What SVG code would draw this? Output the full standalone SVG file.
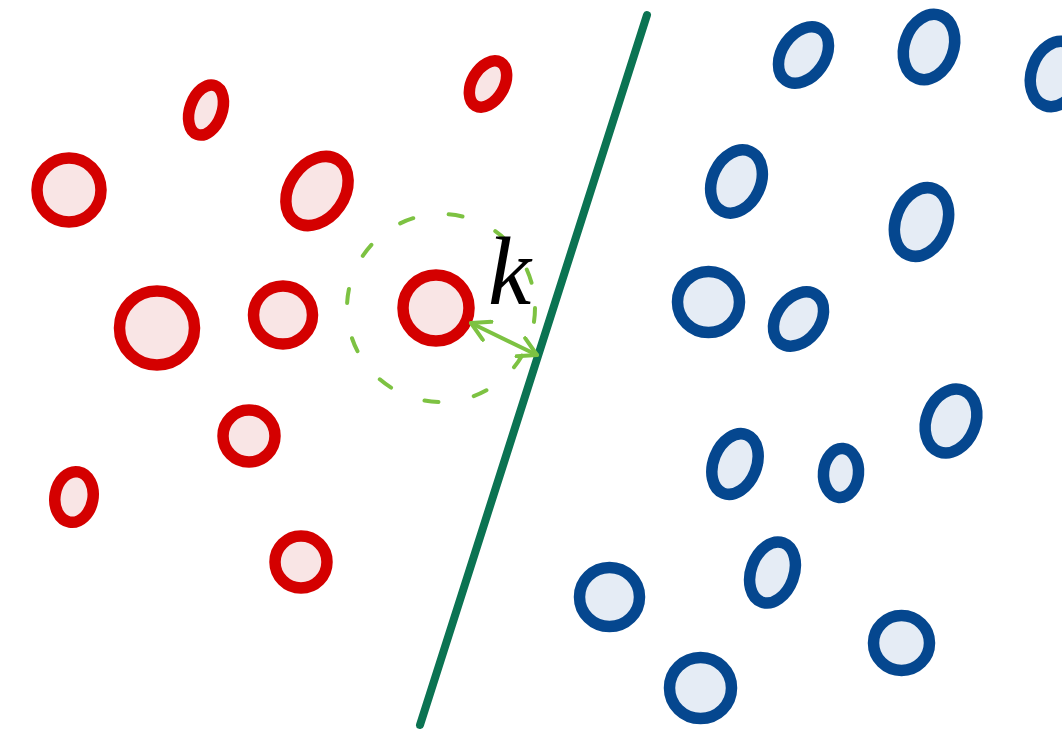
<svg xmlns="http://www.w3.org/2000/svg" width="1062" height="732" viewBox="0 0 1062 732">
<style>
.r{fill:#f9e5e5;stroke:#d40000;stroke-width:11.5}
.b{fill:#e5ecf5;stroke:#05478f;stroke-width:11.5}
.g{fill:none;stroke:#7dc242;stroke-width:4;stroke-linecap:round}
</style>
<defs>
<marker id="ah" viewBox="0 0 12 12" refX="10" refY="6" markerWidth="6" markerHeight="6" orient="auto-start-reverse" markerUnits="strokeWidth">
<path d="M1,1 L10,6 L1,11" fill="none" stroke="#7dc242" stroke-width="2" stroke-linecap="round" stroke-linejoin="round"/>
</marker>
</defs>
<rect width="1062" height="732" fill="#fff"/>
<g id="red">
<ellipse id="r1" class="r" cx="206" cy="110" rx="16" ry="26" transform="rotate(20 206 110)"/>
<ellipse id="r2" class="r" cx="69" cy="190" rx="32" ry="32"/>
<ellipse id="r3" class="r" cx="317" cy="191" rx="27.5" ry="37.5" transform="rotate(35 317 191)"/>
<ellipse id="r4" class="r" cx="157" cy="328" rx="37.5" ry="37"/>
<ellipse id="r5" class="r" cx="283" cy="315" rx="29.5" ry="29"/>
<ellipse id="r6" class="r" cx="436" cy="308" rx="33" ry="33"/>
<ellipse id="r7" class="r" cx="249" cy="436" rx="26" ry="26"/>
<ellipse id="r8" class="r" cx="74" cy="497" rx="19" ry="25.5" transform="rotate(10 74 497)"/>
<ellipse id="r9" class="r" cx="301" cy="562" rx="26" ry="26"/>
<ellipse id="r10" class="r" cx="488" cy="84" rx="16" ry="25" transform="rotate(30 488 84)"/>
</g>
<g id="blue">
<ellipse id="b1" class="b" cx="803.5" cy="55" rx="21.5" ry="31" transform="rotate(35 803.5 55)"/>
<ellipse id="b2" class="b" cx="929" cy="47" rx="24.5" ry="33.5" transform="rotate(20 929 47)"/>
<ellipse id="b3" class="b" cx="1056" cy="74" rx="24.5" ry="33.5" transform="rotate(20 1056 74)"/>
<ellipse id="b4" class="b" cx="736.5" cy="181.5" rx="24" ry="33" transform="rotate(25 736.5 181.5)"/>
<ellipse id="b5" class="b" cx="921.5" cy="222" rx="25.5" ry="35.5" transform="rotate(22 921.5 222)"/>
<ellipse id="b6" class="b" cx="708.5" cy="302" rx="31" ry="30.5"/>
<ellipse id="b7" class="b" cx="798.5" cy="319" rx="21.5" ry="30" transform="rotate(38 798.5 319)"/>
<ellipse id="b8" class="b" cx="951" cy="421" rx="24.5" ry="33" transform="rotate(22 951 421)"/>
<ellipse id="b9" class="b" cx="735" cy="464" rx="21.5" ry="31.5" transform="rotate(22 735 464)"/>
<ellipse id="b10" class="b" cx="841" cy="473" rx="17.5" ry="24.5" transform="rotate(5 841 473)"/>
<ellipse id="b11" class="b" cx="772.5" cy="572.5" rx="21.5" ry="31.5" transform="rotate(20 772.5 572.5)"/>
<ellipse id="b12" class="b" cx="609.5" cy="597" rx="30" ry="29.5"/>
<ellipse id="b13" class="b" cx="700.5" cy="688" rx="31" ry="30.5"/>
<ellipse id="b14" class="b" cx="901.5" cy="643" rx="28" ry="27.5"/>
</g>
<g id="boundary">
<line x1="647" y1="15" x2="420" y2="725" stroke="#0b7352" stroke-width="8" stroke-linecap="round"/>
</g>
<g id="neighbourhood">
<circle cx="441" cy="308" r="94" class="g" stroke-dasharray="14 36"/>
</g>
<g id="connectors">
<line x1="471" y1="323" x2="537" y2="355" class="g" marker-start="url(#ah)" marker-end="url(#ah)"/>
</g>
<text x="488" y="304" font-family="Liberation Serif, serif" font-style="italic" font-size="97" fill="#000">k</text>
</svg>
